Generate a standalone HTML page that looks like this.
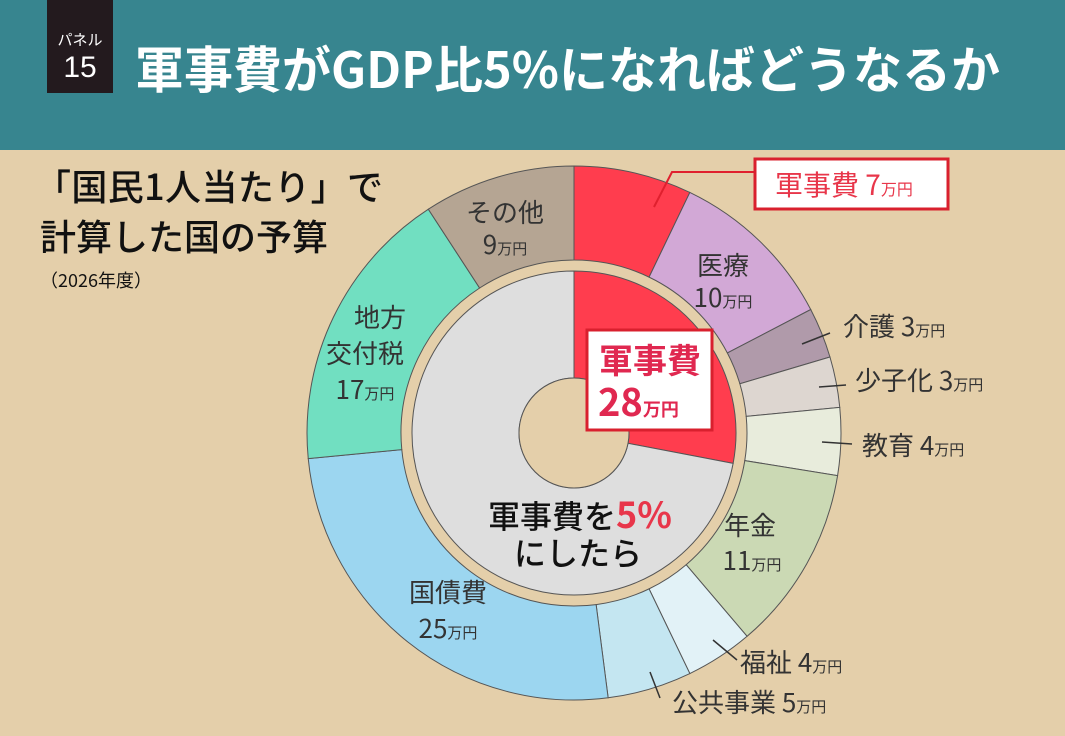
<!DOCTYPE html>
<html><head><meta charset="utf-8"><style>
body{margin:0;width:1065px;height:736px;overflow:hidden;background:#e4cfaa;font-family:"Liberation Sans","Noto Sans CJK JP",sans-serif;}
svg{position:absolute;left:0;top:0}
</style></head><body>
<svg width="1065" height="736" viewBox="0 0 1065 736" id="s">
<rect x="0" y="0" width="1065" height="150" fill="#37858f"/>
<rect x="47" y="0" width="66" height="93" fill="#231a1e"/>
<text x="80" y="45" fill="#fff" font-size="15" text-anchor="middle" font-family="Noto Sans CJK JP">パネル</text>
<text x="80" y="77" fill="#fff" font-size="30" text-anchor="middle">15</text>
<text x="135" y="88" fill="#fff" font-size="50" font-weight="bold" font-family="Noto Sans CJK JP" textLength="865" lengthAdjust="spacingAndGlyphs">軍事費がGDP比5%になればどうなるか</text>
<text x="35" y="200" fill="#111" font-size="36" font-family="Noto Sans CJK JP" font-weight="500" textLength="348">「国民1人当たり」で</text>
<text x="40" y="250" fill="#111" font-size="36" font-family="Noto Sans CJK JP" font-weight="500">計算した国の予算</text>
<text x="40" y="287" fill="#111" font-size="18" font-family="Noto Sans CJK JP">（2026年度）</text>
<g id="pie"></g>
<g font-family="Noto Sans CJK JP" fill="#333" font-size="26">
<text x="505" y="222" text-anchor="middle">その他</text>
<text x="505" y="254" text-anchor="middle">9<tspan font-size="15">万円</tspan></text>
<text x="723" y="275" text-anchor="middle">医療</text>
<text x="723" y="307" text-anchor="middle">10<tspan font-size="15">万円</tspan></text>
<text x="380" y="327" text-anchor="middle">地方</text>
<text x="365" y="363" text-anchor="middle">交付税</text>
<text x="365" y="399" text-anchor="middle">17<tspan font-size="15">万円</tspan></text>
<text x="750" y="535" text-anchor="middle">年金</text>
<text x="752" y="570" text-anchor="middle">11<tspan font-size="15">万円</tspan></text>
<text x="448" y="602" text-anchor="middle">国債費</text>
<text x="448" y="638" text-anchor="middle">25<tspan font-size="15">万円</tspan></text>
<text x="843" y="336">介護 3<tspan font-size="15">万円</tspan></text>
<text x="855" y="390">少子化 3<tspan font-size="15">万円</tspan></text>
<text x="862" y="455">教育 4<tspan font-size="15">万円</tspan></text>
<text x="740" y="672">福祉 4<tspan font-size="15">万円</tspan></text>
<text x="672" y="712">公共事業 5<tspan font-size="15">万円</tspan></text>
</g>
<g stroke="#333" stroke-width="1.5">
<line x1="802" y1="344" x2="830" y2="333"/>
<line x1="819" y1="387" x2="846" y2="385"/>
<line x1="822" y1="442" x2="852" y2="444"/>
<line x1="713" y1="640" x2="737" y2="660"/>
<line x1="650" y1="672" x2="660" y2="698"/>
</g>
<polyline points="654,207 672,172 755,172" fill="none" stroke="#e0202e" stroke-width="2"/>
<rect x="755" y="159" width="193" height="50" fill="#fff" stroke="#d9202e" stroke-width="3"/>
<text x="775" y="195" fill="#e8364a" font-size="28" font-family="Noto Sans CJK JP">軍事費 7<tspan font-size="16">万円</tspan></text>
<rect x="587" y="330" width="125" height="100" fill="#fff" stroke="#d9202e" stroke-width="3"/>
<text x="650" y="373" fill="#e02850" font-size="34" font-weight="bold" text-anchor="middle" font-family="Noto Sans CJK JP">軍事費</text>
<text x="598" y="416" fill="#e02850" font-size="38" font-weight="bold" font-family="Noto Sans CJK JP">28<tspan font-size="18">万円</tspan></text>
<text x="580" y="528" fill="#111" font-size="32" font-weight="500" text-anchor="middle" font-family="Noto Sans CJK JP">軍事費を<tspan fill="#e8364a" font-size="36" font-weight="bold">5%</tspan></text>
<text x="578" y="565" fill="#111" font-size="32" font-weight="500" text-anchor="middle" font-family="Noto Sans CJK JP">にしたら</text>
</svg>
<script>
var cx=574,cy=433,R=267,r=173;
var d=[[7,'#ff3d4e'],[10,'#d2a8d6'],[3,'#b09aaa'],[3,'#ddd6d0'],[4,'#e8ecdc'],[11,'#cbd9b4'],[4,'#e2f2f7'],[5,'#c4e6f1'],[25,'#9cd6f0'],[17,'#71dfc1'],[9,'#b5a593']];
function P(a,rr){a=a*Math.PI/180;return [cx+rr*Math.sin(a),cy-rr*Math.cos(a)];}
function arc(a0,a1,ro,ri){var p=P(a0,ro),q=P(a1,ro),s=P(a1,ri),t=P(a0,ri),l=(a1-a0)>180?1:0;
return 'M'+p+' A'+ro+','+ro+' 0 '+l+' 1 '+q+' L'+s+' A'+ri+','+ri+' 0 '+l+' 0 '+t+'Z';}
var h='',a=0;
d.forEach(function(e){var b=a+e[0]/98*360;h+='<path d="'+arc(a,b,R,r)+'" fill="'+e[1]+'" stroke="#555" stroke-width="1"/>';a=b;});
h+='<circle cx="'+cx+'" cy="'+cy+'" r="166" fill="#e4cfaa"/>';
h+='<path d="'+arc(0,100.8,162,55)+'" fill="#ff3d4e" stroke="#555" stroke-width="1"/>';
h+='<path d="'+arc(100.8,360,162,55)+'" fill="#dedede" stroke="#555" stroke-width="1"/>';
h+='<circle cx="'+cx+'" cy="'+cy+'" r="55" fill="#e4cfaa" stroke="#555"/>';
document.getElementById('pie').innerHTML=h;
</script>
</body></html>
